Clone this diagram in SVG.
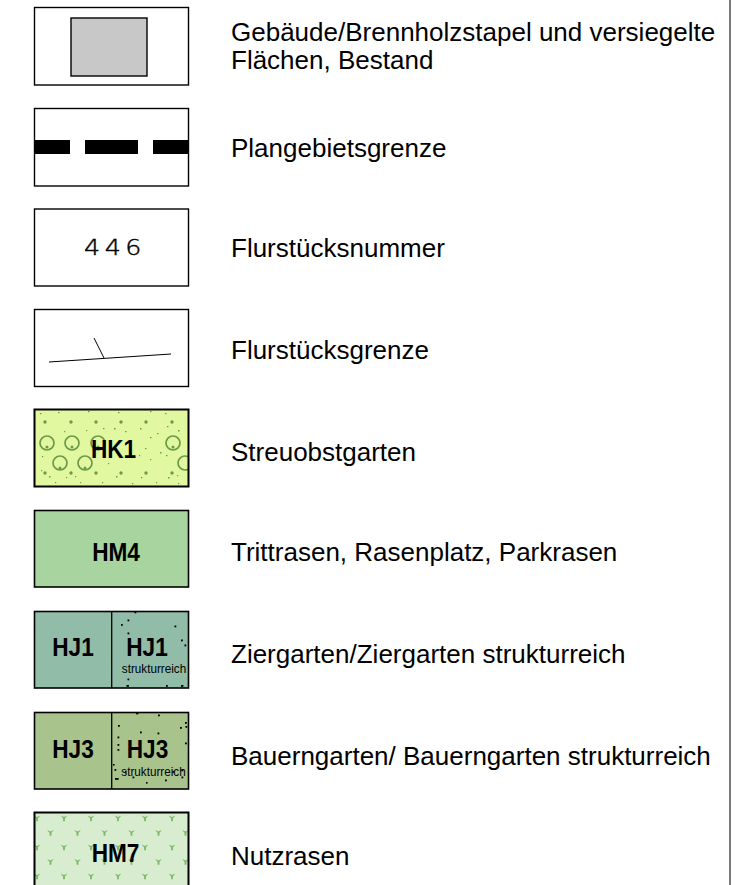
<svg xmlns="http://www.w3.org/2000/svg" width="751" height="885" viewBox="0 0 751 885">
<style>
.lbl{font-family:"Liberation Sans",Arial,sans-serif;font-size:26px;fill:#000}
.code{font-family:"Liberation Sans",Arial,sans-serif;font-size:26px;font-weight:bold;fill:#000;text-anchor:middle}
.small{font-family:"Liberation Sans",Arial,sans-serif;font-size:13px;fill:#000;text-anchor:middle}
.frame{fill:#fff;stroke:#000;stroke-width:1.4}
.thick{stroke:#000;stroke-width:2}
.mid{stroke:#000;stroke-width:1.6}
.dot{fill:#000}
.hk{fill:#6b9a48}
.hkc{fill:none;stroke:#6b9a48;stroke-width:1.7}
</style>
<defs>
<pattern id="hm7pat" patternUnits="userSpaceOnUse" x="31" y="813" width="27" height="29">
<path d="M2.6,2.4 L6,4 L9.4,2.4 L6,6.6 Z M5.1,5 h1.8 v3.2 h-1.8 Z M16.1,16.9 L19.5,18.5 L22.9,16.9 L19.5,21.1 Z M18.6,19.5 h1.8 v3.2 h-1.8 Z" fill="#7cb864"/>
</pattern>
<clipPath id="hkclip"><rect x="35" y="410" width="153" height="76"/></clipPath>
</defs>

<line id="divider" x1="730" y1="0" x2="730" y2="885" stroke="#333" stroke-width="1.3"/>

<g id="row1">
<rect class="frame" x="34.5" y="7.5" width="154" height="77.5"/>
<rect x="71" y="18" width="76" height="58" fill="#c8c8c8" stroke="#000" stroke-width="1.4"/>
<text class="lbl" x="231" y="41">Gebäude/Brennholzstapel und versiegelte</text>
<text class="lbl" x="231" y="69">Flächen, Bestand</text>
</g>

<g id="row2">
<rect class="frame" x="34.5" y="108.5" width="154" height="77.5"/>
<rect x="34.5" y="140" width="35.5" height="14" fill="#000"/>
<rect x="85" y="140" width="53" height="14" fill="#000"/>
<rect x="153" y="140" width="35.5" height="14" fill="#000"/>
<text class="lbl" x="231" y="157">Plangebietsgrenze</text>
</g>

<g id="row3">
<rect class="frame" x="34.5" y="209" width="154" height="77"/>
<text x="0" y="0" transform="translate(115,255) scale(1.15,1)" font-family="DejaVu Sans, sans-serif" font-weight="200" font-size="22" letter-spacing="4" text-anchor="middle" fill="#000" stroke="#000" stroke-width="0.45">446</text>
<text class="lbl" x="231" y="257">Flurstücksnummer</text>
</g>

<g id="row4">
<rect class="frame" x="34.5" y="309.5" width="154" height="77"/>
<line x1="49" y1="362" x2="171" y2="354" stroke="#000" stroke-width="1"/>
<line x1="94" y1="338" x2="104" y2="358" stroke="#000" stroke-width="1"/>
<text class="lbl" x="231" y="359">Flurstücksgrenze</text>
</g>

<g id="row5">
<rect x="34.5" y="409.5" width="154" height="77" fill="#e2f8a0"/>
<g clip-path="url(#hkclip)">
<g class="hk">
<circle cx="45" cy="422" r="1.7"/><circle cx="71" cy="422" r="1.7"/><circle cx="96" cy="422" r="1.7"/><circle cx="121" cy="422" r="1.7"/><circle cx="146" cy="422" r="1.7"/><circle cx="172" cy="422" r="1.7"/>
<circle cx="45" cy="473" r="1.7"/><circle cx="71" cy="473" r="1.7"/><circle cx="96" cy="473" r="1.7"/><circle cx="121" cy="473" r="1.7"/><circle cx="146" cy="473" r="1.7"/><circle cx="172" cy="473" r="1.7"/>
<circle cx="47" cy="447" r="1.5"/><circle cx="72" cy="447" r="1.5"/><circle cx="98" cy="447" r="1.5"/><circle cx="173" cy="447" r="1.5"/><circle cx="60" cy="468" r="1.5"/><circle cx="85" cy="468" r="1.5"/>
<rect x="40" y="413" width="1.5" height="1.2"/><rect x="58" y="412" width="1.5" height="1.2"/><rect x="88" y="411" width="1.5" height="1.2"/><rect x="118" y="412" width="1.5" height="1.2"/><rect x="150" y="411" width="1.5" height="1.2"/><rect x="165" y="413" width="1.5" height="1.2"/>
<rect x="114" y="428" width="1.5" height="1.5"/><rect x="125" y="431" width="1.5" height="1.2"/><rect x="140" y="428" width="1.5" height="1.5"/><rect x="157" y="433" width="1.5" height="1.2"/><rect x="178" y="430" width="1.5" height="1.5"/><rect x="64" y="431" width="1.2" height="1.2"/><rect x="86" y="430" width="1.2" height="1.2"/><rect x="103" y="428" width="1.5" height="1.2"/><rect x="167" y="426" width="1.5" height="1.2"/>
<rect x="150" y="437" width="1.5" height="1.2"/><rect x="160" y="452" width="1.5" height="1.5"/><rect x="166" y="455" width="1.5" height="1.2"/><rect x="150" y="459" width="1.2" height="1.2"/><rect x="139" y="455" width="1.2" height="1.2"/><rect x="42" y="456" width="1.2" height="1.2"/><rect x="108" y="463" width="1.2" height="1.2"/><rect x="145" y="448" width="1.5" height="1.2"/>
<rect x="41" y="470" width="1.2" height="1.2"/><rect x="49" y="476" width="1.5" height="1.5"/><rect x="66" y="477" width="1.2" height="1.2"/><rect x="75" y="476" width="1.2" height="1.2"/><rect x="116" y="476" width="1.5" height="1.5"/><rect x="141" y="477" width="1.2" height="1.2"/><rect x="168" y="477" width="1.5" height="1.5"/><rect x="177" y="475" width="1.2" height="1.2"/>
<rect x="55" y="482" width="1.2" height="1.2"/><rect x="80" y="482" width="1.2" height="1.2"/><rect x="102" y="482" width="1.2" height="1.2"/><rect x="132" y="483" width="1.2" height="1.2"/><rect x="156" y="482" width="1.2" height="1.2"/><rect x="178" y="483" width="1.2" height="1.2"/>
</g>
<g class="hkc">
<circle cx="47" cy="443" r="7"/><circle cx="72" cy="443" r="7"/><circle cx="98" cy="443" r="7"/><circle cx="173" cy="443" r="7"/><circle cx="60" cy="463" r="7"/><circle cx="85" cy="463" r="7"/><circle cx="185" cy="463" r="7"/>
</g>
</g>
<rect class="thick" x="34.5" y="409.5" width="154" height="77" fill="none"/>
<text class="code" transform="translate(113.5,458) scale(0.87,1)">HK1</text>
<text class="lbl" x="231" y="461">Streuobstgarten</text>
</g>

<g id="row6">
<rect class="mid" x="34.5" y="510.5" width="154" height="76.5" fill="#a8d4a0"/>
<text class="code" transform="translate(116,561) scale(0.87,1)">HM4</text>
<text class="lbl" x="231" y="561">Trittrasen, Rasenplatz, Parkrasen</text>
</g>

<g id="row7">
<rect class="mid" x="34.5" y="611.5" width="154" height="76.5" fill="#90bca8"/>
<line x1="111.7" y1="611.5" x2="111.7" y2="688" stroke="#000" stroke-width="1.3"/>
<g class="dot">
<rect x="134.5" y="611.5" width="1.8" height="1.8"/><rect x="127.5" y="619.5" width="1.8" height="1.8"/><rect x="121" y="624" width="1.8" height="1.8"/><rect x="174.5" y="625.5" width="1.8" height="1.8"/><rect x="127.5" y="632.5" width="1.8" height="1.8"/><rect x="181" y="639.5" width="1.8" height="1.8"/><rect x="184.5" y="644.5" width="1.8" height="1.8"/><rect x="156" y="654" width="1.8" height="1.8"/><rect x="159.5" y="654" width="1.8" height="1.8"/><rect x="127.5" y="678.5" width="1.8" height="1.8"/><rect x="126.5" y="685" width="2.4" height="1.8"/><rect x="166" y="685" width="1.8" height="1.8"/><rect x="181" y="685" width="2.4" height="1.8"/><rect x="159" y="639" width="1.6" height="1.6"/>
</g>
<text class="code" transform="translate(73,656) scale(0.87,1)">HJ1</text>
<text class="code" transform="translate(147,656) scale(0.87,1)">HJ1</text>
<text class="small" transform="translate(154,673) scale(0.9,1)">strukturreich</text>
<text class="lbl" x="231" y="663">Ziergarten/Ziergarten strukturreich</text>
</g>

<g id="row8">
<rect class="mid" x="34.5" y="712.5" width="154" height="76.5" fill="#a8c48c"/>
<line x1="111.7" y1="712.5" x2="111.7" y2="789" stroke="#000" stroke-width="1.3"/>
<g class="dot">
<rect x="136" y="712.5" width="2.4" height="1.8"/><rect x="158" y="714.5" width="1.8" height="1.8"/><rect x="118" y="725" width="1.8" height="1.8"/><rect x="180" y="727" width="1.8" height="1.8"/><rect x="185" y="722" width="1.8" height="1.8"/><rect x="185.5" y="726" width="1.8" height="1.8"/><rect x="140" y="731.5" width="1.8" height="1.8"/><rect x="157.5" y="732.5" width="1.8" height="1.8"/><rect x="117.5" y="736.5" width="1.8" height="1.8"/><rect x="117.5" y="744" width="1.8" height="1.8"/><rect x="117.5" y="749" width="1.8" height="1.8"/><rect x="185" y="742.5" width="1.8" height="1.8"/><rect x="157" y="752" width="1.8" height="1.8"/><rect x="113" y="764" width="1.6" height="1.6"/><rect x="114.5" y="769" width="1.8" height="1.8"/><rect x="172.5" y="771" width="1.8" height="1.8"/><rect x="181.5" y="769.5" width="1.8" height="1.8"/><rect x="115" y="778" width="3.6" height="1.8"/><rect x="132.5" y="776.5" width="1.8" height="1.8"/><rect x="165" y="779.5" width="1.8" height="1.8"/><rect x="181.5" y="776.5" width="1.8" height="1.8"/><rect x="125" y="771" width="1.6" height="1.6"/><rect x="146" y="782" width="1.6" height="1.6"/>
</g>
<text class="code" transform="translate(73,758) scale(0.87,1)">HJ3</text>
<text class="code" transform="translate(147.5,758) scale(0.87,1)">HJ3</text>
<text class="small" transform="translate(153.5,776) scale(0.9,1)">strukturreich</text>
<text class="lbl" x="231" y="765">Bauerngarten/ Bauerngarten strukturreich</text>
</g>

<g id="row9">
<rect x="34.5" y="812.5" width="154" height="80" fill="#d8ecd0"/>
<rect x="34.5" y="812.5" width="154" height="80" fill="url(#hm7pat)"/>
<rect class="thick" x="34.5" y="812.5" width="154" height="80" fill="none"/>
<text class="code" transform="translate(115.5,862) scale(0.87,1)">HM7</text>
<text class="lbl" x="231" y="865">Nutzrasen</text>
</g>
</svg>
